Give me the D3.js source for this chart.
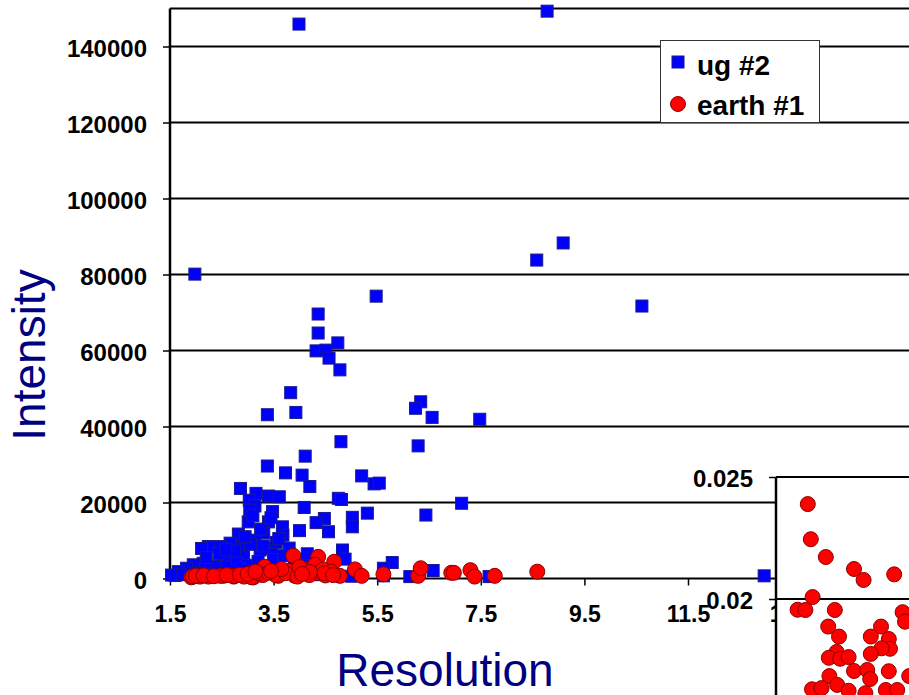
<!DOCTYPE html>
<html lang="en">
<head>
<meta charset="utf-8">
<title>Intensity vs Resolution</title>
<script src="https://cdn.jsdelivr.net/npm/d3@7"></script>
<style>
  body, html { margin: 0; padding: 0; background: #fff; }
  svg { display: block; }
  .tick text { font-family: "Liberation Sans", Arial, sans-serif; font-weight: bold; fill: #000; }
  .title { font-family: "Liberation Sans", Arial, sans-serif; fill: #000080; font-size: 46px; }
  .legend text { font-family: "Liberation Sans", Arial, sans-serif; font-weight: bold; font-size: 28px; fill: #000; }
</style>
</head>
<body>
<script>
// ug #2 (blue squares)
var ugRes = [3.99, 8.78, 1.98, 8.58, 9.09, 10.61, 4.36, 4.36, 4.32, 4.51, 4.57, 4.74, 4.78, 5.48,
  3.83, 3.38, 3.93, 6.34, 6.24, 6.56, 6.29, 4.80, 4.11, 3.38, 3.73, 4.05, 4.20, 5.20, 5.44, 5.54,
  2.86, 3.16, 3.40, 3.61, 4.75, 4.81, 3.03, 3.14, 4.09, 3.48, 6.44, 5.31, 5.02, 4.48, 4.32, 5.02,
  3.01, 3.40, 3.67, 4.00, 4.56, 3.68, 2.82, 3.31, 4.83, 4.88, 5.79, 5.62, 6.58, 6.13, 5.62, 7.48,
  7.13, 7.66, 12.97, 3.04, 3.14, 3.46, 3.24, 2.90, 2.66, 2.47, 2.24, 2.11, 2.69, 2.92, 2.53, 2.14,
  1.95, 1.82, 1.66, 1.53, 1.60, 1.75, 2.00, 2.30, 2.40, 2.60, 2.80, 3.00, 3.20, 3.50, 3.70, 3.90,
  4.00, 4.13, 4.30, 4.50, 2.20, 2.45, 2.75, 3.05, 3.30, 3.55, 3.60, 2.95, 3.25, 3.45, 3.10, 2.58,
  3.80, 4.15, 4.40, 4.60, 5.00];
var ugInt = [145900, 149300, 80100, 83800, 88300, 71700, 69600, 64600, 59900, 60100, 58000, 62000, 54900, 74300,
  48900, 43100, 43700, 46500, 44800, 42400, 34900, 36000, 32200, 29600, 27800, 27200, 24200, 27000, 24900, 25100,
  23700, 22400, 21700, 21500, 21100, 20800, 20600, 19100, 18700, 17600, 16700, 17200, 16100, 15800, 14700, 13600,
  14900, 14900, 13600, 12600, 12300, 11400, 11700, 12100, 7500, 5100, 4200, 2700, 2100, 500, 700, 41900,
  19800, 500, 700, 18000, 10100, 7900, 7500, 8400, 9300, 8400, 8400, 7900, 6200, 5700, 4900, 4000,
  3600, 2700, 1800, 900, 800, 1000, 1500, 2500, 3200, 3000, 4000, 3500, 4500, 5000, 6000, 4000,
  4900, 4000, 3000, 2000, 5500, 6500, 7200, 9000, 8600, 9500, 10500, 11000, 13000, 16000, 16500, 7700,
  8000, 6500, 1000, 1200, 600];

// earth #1 (red circles)
var earthRes = [3.88, 4.36, 4.67, 3.33, 4.11, 4.30, 4.33, 4.46, 4.78, 5.07, 5.20, 5.62, 6.29, 6.34,
  6.93, 6.98, 7.30, 7.38, 7.77, 8.59, 2.08, 2.53, 3.11, 3.59, 3.91, 1.91, 2.73, 3.80, 3.29, 4.61,
  4.50, 1.94, 2.24, 2.47, 2.74, 2.93, 3.08, 3.21, 3.54, 3.73, 3.96, 4.19, 4.48, 4.65, 2.00, 2.15,
  2.35, 2.60, 2.85, 3.00, 3.40, 3.65, 4.00, 4.20, 4.05, 3.45, 3.15];
var earthInt = [6000, 5700, 4400, 3100, 2400, 3600, 1500, 2400, 700, 2400, 700, 1100, 700, 2700,
  1500, 1500, 2200, 500, 700, 1800, 500, 700, 300, 700, 700, 300, 500, 2000, 900, 1800,
  800, 500, 500, 700, 700, 500, 300, 1400, 900, 1400, 500, 900, 1400, 900, 700, 800,
  600, 900, 1000, 1200, 1500, 2500, 3000, 1700, 1200, 2000, 1800];

// inset chart (earth #1, zoomed)
var insetRes = [2.03, 2.08, 2.33, 2.80, 2.96, 3.47, 2.11, 1.86, 1.99, 2.48, 3.61, 3.65, 2.37, 2.55,
  3.25, 3.08, 3.38, 3.40, 3.26, 2.51, 2.38, 2.57, 2.71, 2.80, 3.08, 3.02, 3.07, 3.38, 2.39, 2.52,
  2.10, 2.26, 2.71, 2.99, 3.33, 3.52, 3.72];
var insetVal = [0.02389, 0.02245, 0.02172, 0.02123, 0.02078, 0.02101, 0.02008, 0.01956, 0.01955, 0.01955,
  0.01946, 0.01907, 0.01887, 0.01846, 0.01887, 0.01846, 0.01836, 0.01796, 0.01798, 0.01783, 0.01759,
  0.01755, 0.01762, 0.01705, 0.01775, 0.01709, 0.01672, 0.01704, 0.01684, 0.01648, 0.01630, 0.01635,
  0.01624, 0.01614, 0.01627, 0.01627, 0.01684];

var xTicks = [1.5, 3.5, 5.5, 7.5, 9.5, 11.5, 13.5];
var yTicks = [0, 20000, 40000, 60000, 80000, 100000, 120000, 140000];
var insetTicks = [0.025, 0.02];
var seriesNames = ["ug #2", "earth #1"];

var w = 909, h = 695;

var svg = d3.select("body").append("svg")
  .attr("width", w)
  .attr("height", h);

var x = d3.scaleLinear().domain([1.5, 15.5]).range([170, 170 + 7 * 103.6]);
var y = d3.scaleLinear().domain([0, 150000]).range([578.5, 8.5]);

// gridlines
svg.append("g").selectAll("line")
  .data(yTicks.filter(function(d) { return d > 0; }).concat([150000]))
  .enter().append("line")
  .attr("x1", 170).attr("x2", w + 10)
  .attr("y1", function(d) { return y(d); })
  .attr("y2", function(d) { return y(d); })
  .attr("stroke", "#000").attr("stroke-width", 2);

// axes
var xAxis = svg.append("g")
  .attr("transform", "translate(0," + y(0) + ")")
  .call(d3.axisBottom(x).tickValues(xTicks).tickSize(7).tickPadding(20)
    .tickFormat(function(d) { return d3.format(".1f")(d); }));
xAxis.select(".domain").remove();
xAxis.append("line").attr("x1", 170).attr("x2", w + 10)
  .attr("stroke", "#000").attr("stroke-width", 2);
xAxis.selectAll(".tick line").attr("stroke-width", 1.5);
xAxis.selectAll(".tick text").style("font-size", "23px");

var yAxis = svg.append("g")
  .attr("transform", "translate(170,0)")
  .call(d3.axisLeft(y).tickValues(yTicks).tickSize(7).tickPadding(16).tickFormat(d3.format("d")));
yAxis.select(".domain").remove();
yAxis.append("line").attr("y1", y(150000)).attr("y2", y(0) + 1)
  .attr("stroke", "#000").attr("stroke-width", 2.5);
yAxis.selectAll(".tick line").attr("stroke-width", 1.5);
yAxis.selectAll(".tick text").style("font-size", "24px").attr("dy", "0.4em");

// ug #2 squares
var s = 12;
svg.append("g").selectAll("rect")
  .data(d3.range(ugRes.length))
  .enter().append("rect")
  .attr("x", function(i) { return x(ugRes[i]) - s / 2; })
  .attr("y", function(i) { return y(ugInt[i]) - s / 2; })
  .attr("width", s).attr("height", s)
  .attr("fill", "#0000ff").attr("stroke", "#1a1a8c").attr("stroke-width", 1);

// earth #1 circles
svg.append("g").selectAll("circle")
  .data(d3.range(earthRes.length))
  .enter().append("circle")
  .attr("cx", function(i) { return x(earthRes[i]); })
  .attr("cy", function(i) { return y(earthInt[i]); })
  .attr("r", 7.5)
  .attr("fill", "#ff0000").attr("stroke", "#8b0000").attr("stroke-width", 1);

// titles
svg.append("text").attr("class", "title")
  .attr("x", 445).attr("y", 686).attr("text-anchor", "middle")
  .text("Resolution");
svg.append("text").attr("class", "title")
  .attr("transform", "translate(45,355) rotate(-90)")
  .attr("text-anchor", "middle")
  .text("Intensity");

// legend
var legend = svg.append("g").attr("class", "legend");
legend.append("rect").attr("x", 660.5).attr("y", 40.5).attr("width", 159).attr("height", 82)
  .attr("fill", "#fff").attr("stroke", "#333").attr("stroke-width", 1);
legend.append("rect").attr("x", 672).attr("y", 56).attr("width", 12).attr("height", 12)
  .attr("fill", "#0000ff").attr("stroke", "#1a1a8c").attr("stroke-width", 1);
legend.append("circle").attr("cx", 678).attr("cy", 104).attr("r", 7.5)
  .attr("fill", "#ff0000").attr("stroke", "#8b0000").attr("stroke-width", 1);
legend.append("text").attr("x", 697).attr("y", 75).text(seriesNames[0]);
legend.append("text").attr("x", 697).attr("y", 115).text(seriesNames[1]);

// inset chart
var ix = d3.scaleLinear().domain([1.5, 4.5]).range([776, 956]);
var iy = d3.scaleLinear().domain([0.015, 0.025]).range([721, 477]);
var inset = svg.append("g");
inset.append("rect").attr("x", 776).attr("y", 477).attr("width", 200).attr("height", 260)
  .attr("fill", "#fff");
inset.append("line").attr("x1", 776).attr("x2", w + 10)
  .attr("y1", iy(0.02)).attr("y2", iy(0.02))
  .attr("stroke", "#000").attr("stroke-width", 2);
inset.append("line").attr("x1", 776).attr("x2", w + 10)
  .attr("y1", iy(0.025)).attr("y2", iy(0.025))
  .attr("stroke", "#000").attr("stroke-width", 2);
var iAxis = inset.append("g")
  .attr("transform", "translate(776,0)")
  .call(d3.axisLeft(iy).tickValues(insetTicks).tickSize(7).tickPadding(16)
    .tickFormat(function(d) { return String(d); }));
iAxis.select(".domain").remove();
iAxis.append("line").attr("y1", iy(0.025)).attr("y2", h + 10)
  .attr("stroke", "#000").attr("stroke-width", 2.5);
iAxis.selectAll(".tick line").attr("stroke-width", 1.5);
iAxis.selectAll(".tick text").style("font-size", "24px").attr("dy", "0.4em");
inset.append("g").selectAll("circle")
  .data(d3.range(insetRes.length))
  .enter().append("circle")
  .attr("cx", function(i) { return ix(insetRes[i]); })
  .attr("cy", function(i) { return iy(insetVal[i]); })
  .attr("r", 7.5)
  .attr("fill", "#ff0000").attr("stroke", "#8b0000").attr("stroke-width", 1);
</script>
</body>
</html>
